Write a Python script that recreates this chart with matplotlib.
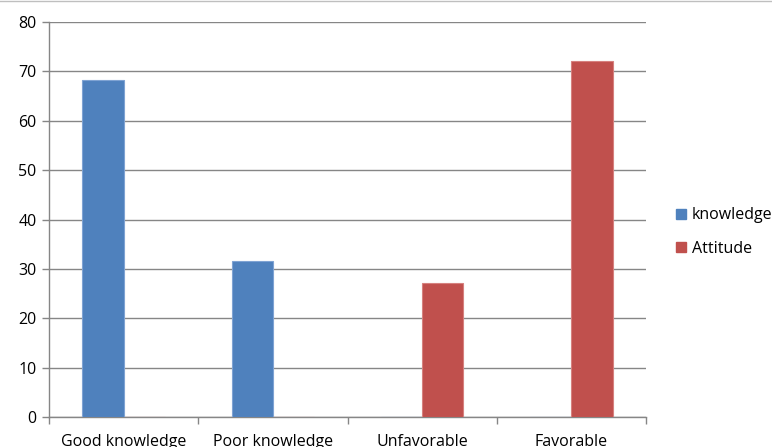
import matplotlib
matplotlib.use("Agg")
import matplotlib.pyplot as plt
import numpy as np
from matplotlib.lines import Line2D
from matplotlib.patches import Patch

categories = ["Good knowledge", "Poor knowledge", "Unfavorable", "Favorable"]
knowledge = [68.3, 31.5, 0, 0]
attitude = [0, 0, 27.1, 72.1]
series_names = ["knowledge", "Attitude"]
colors = ["#4F81BD", "#C0504D"]
edge_colors = ["#7FA3D3", "#D6817F"]

plt.rcParams["font.family"] = ["Open Sans", "DejaVu Sans"]
FS = 11.5

fig = plt.figure(figsize=(7.72, 4.47), dpi=100)
ax = fig.add_axes([49 / 772, 1 - 417 / 447, (646 - 49) / 772, (417 - 22) / 447])

x = np.arange(len(categories))
width = 0.276
ax.bar(x - width / 2, knowledge, width, color=colors[0], edgecolor=edge_colors[0], linewidth=0.8, zorder=3)
ax.bar(x + width / 2, attitude, width, color=colors[1], edgecolor=edge_colors[1], linewidth=0.8, zorder=3)

ax.set_xlim(-0.5, len(categories) - 0.5)
ax.set_ylim(0, 80)
ax.set_yticks(np.arange(0, 81, 10))
ax.yaxis.grid(True, color="#868686", linewidth=1.0, zorder=0)
ax.set_axisbelow(True)

ax.set_xticks(x)
ax.set_xticklabels(categories, fontsize=FS)
ax.set_xticks(np.arange(-0.5, len(categories)), minor=True)
ax.tick_params(axis="x", which="major", length=0, pad=12)
ax.tick_params(axis="x", which="minor", length=5, color="#868686", width=1.0)
ax.tick_params(axis="y", length=5, color="#868686", width=1.0, labelsize=FS, pad=4)

for side in ["top", "right"]:
    ax.spines[side].set_visible(False)
for side in ["left", "bottom"]:
    ax.spines[side].set_color("#868686")
    ax.spines[side].set_linewidth(1.0)

handles = [Patch(facecolor=c, edgecolor=c) for c in colors]
fig.legend(handles, series_names, loc="center left", bbox_to_anchor=(676 / 772, 1 - 232 / 447),
           frameon=False, fontsize=FS, handlelength=0.6, handleheight=0.6, handletextpad=0.4,
           labelspacing=1.1, borderpad=0, borderaxespad=0)

fig.add_artist(Line2D([0, 1], [1 - 1 / 447, 1 - 1 / 447], transform=fig.transFigure, color="#BFBFBF", linewidth=1.0))

fig.savefig("out.png", dpi=100)
